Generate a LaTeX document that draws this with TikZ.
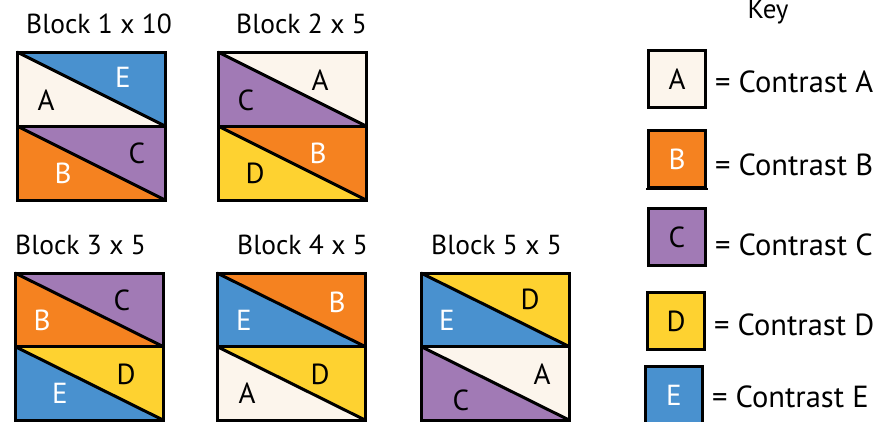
\documentclass[tikz,border=0pt]{standalone}
\usepackage{fontspec}
\setmainfont{PT Sans}
\definecolor{cA}{HTML}{FCF5EC}
\definecolor{cB}{HTML}{F58220}
\definecolor{cC}{HTML}{A17AB5}
\definecolor{cD}{HTML}{FED230}
\definecolor{cE}{HTML}{4991CF}
\newcommand\qhalf[5]{% x0, y0, half height, UR colour, LL colour
  \fill[#4] (#1,#2) -- (#1+148,#2) -- (#1+148,#2+#3) -- cycle;
  \fill[#5] (#1,#2) -- (#1,#2+#3) -- (#1+148,#2+#3) -- cycle;
  \draw[edge] (#1,#2) -- (#1+148,#2+#3);
}
\newcommand\qblock[7]{% x0, y0, half height, top UR, top LL, bottom UR, bottom LL
  \qhalf{#1}{#2}{#3}{#4}{#5}
  \qhalf{#1}{#2+#3}{#3}{#6}{#7}
  \draw[edge] (#1,#2+#3) -- (#1+148,#2+#3);
  \draw[edge] (#1,#2) rectangle (#1+148,#2+2*#3);
}
\begin{document}
\begin{tikzpicture}[x=1pt,y=-1pt,
  edge/.style={line width=3pt,line join=miter},
  lbl/.style={font=\fontsize{29}{30}\selectfont,inner sep=0pt},
  wl/.style={lbl,text=white},
  ttl/.style={font=\fontsize{27.5}{30}\selectfont,inner sep=0pt,anchor=base west},
  keybox/.style={draw,line width=3pt,minimum width=57pt,minimum height=57pt,inner sep=0pt,font=\fontsize{29}{30}\selectfont},
  keytxt/.style={font=\fontsize{30.5}{32}\selectfont,inner sep=0pt,anchor=base west}]
\useasboundingbox (0,0) rectangle (891,421);
\fill[white] (0,0) rectangle (891,421);
% titles
\node[ttl] (t1) at (26,33) {Block 1 x 10};
\node[ttl] (t2) at (236,33) {Block 2 x 5};
\node[ttl] (t3) at (15,254) {Block 3 x 5};
\node[ttl] (t4) at (237,254) {Block 4 x 5};
\node[ttl] (t5) at (431,254) {Block 5 x 5};
% blocks
\qblock{17}{52}{74}{cE}{cA}{cC}{cB}
\qblock{218}{52}{74}{cA}{cC}{cB}{cD}
\qblock{15}{273}{73.5}{cC}{cB}{cD}{cE}
\qblock{217}{273}{73.5}{cB}{cE}{cD}{cA}
\qblock{421}{273}{73.5}{cD}{cE}{cA}{cC}
% block labels
\node[wl]  (b1e) at (123,77) {E};
\node[lbl] (b1a) at (46,100) {A};
\node[lbl] (b1c) at (137,153) {C};
\node[wl]  (b1b) at (63,173) {B};
\node[lbl] (b2a) at (320,80) {A};
\node[lbl] (b2c) at (246,100) {C};
\node[wl]  (b2b) at (318,153) {B};
\node[lbl] (b2d) at (255,173) {D};
\node[lbl] (b3c) at (122,300) {C};
\node[wl]  (b3b) at (42,320) {B};
\node[lbl] (b3d) at (126,374) {D};
\node[wl]  (b3e) at (60,393) {E};
\node[wl]  (b4b) at (337,302) {B};
\node[wl]  (b4e) at (244,320) {E};
\node[lbl] (b4d) at (320,374) {D};
\node[lbl] (b4a) at (247,393) {A};
\node[lbl] (b5d) at (530,299) {D};
\node[wl]  (b5e) at (447,320) {E};
\node[lbl] (b5a) at (542,374) {A};
\node[lbl] (b5c) at (461,400) {C};
% key
\node[font=\fontsize{27}{30}\selectfont,inner sep=0pt,anchor=base] (key) at (768,18) {Key};
\node[keybox,fill=cA] (kA) at (677,79) {A};
\node[keybox,fill=cB,text=white] (kB) at (677,159) {B};
\draw[line width=2pt] (kB.south west) ++(-1pt,0.5pt) -- ++(62pt,0);
\node[keybox,fill=cC] (kC) at (677,237) {C};
\node[keybox,fill=cD] (kD) at (676,321) {D};
\node[keybox,fill=cE,text=white] (kE) at (674,395) {E};
\node[keytxt] (lA) at (715,92) {= Contrast A};
\node[keytxt] (lB) at (715,175) {= Contrast B};
\node[keytxt] (lC) at (715,255) {= Contrast C};
\node[keytxt] (lD) at (714,335) {= Contrast D};
\node[keytxt] (lE) at (712,407) {= Contrast E};
\end{tikzpicture}
\end{document}
